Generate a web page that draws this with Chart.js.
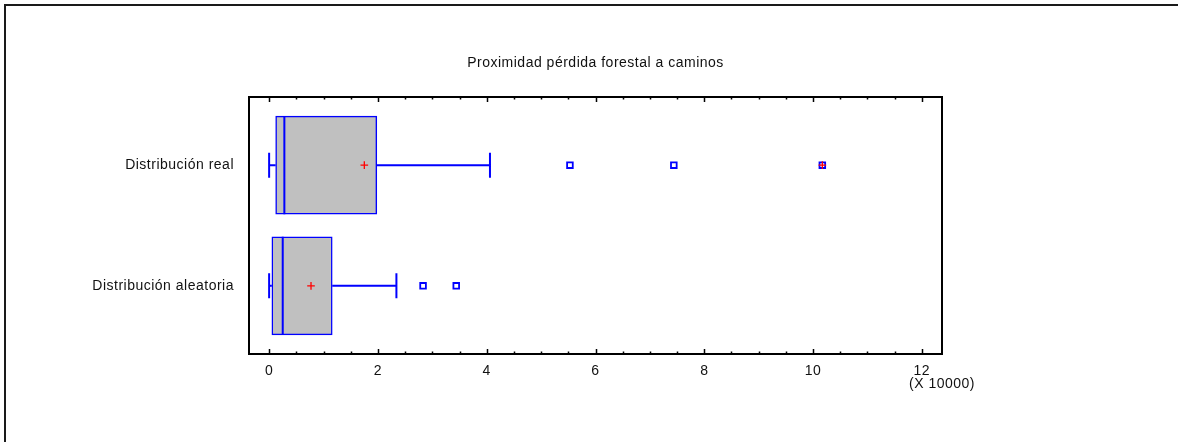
<!DOCTYPE html>
<html>
<head>
<meta charset="utf-8">
<script src="https://cdn.jsdelivr.net/npm/chart.js@4/dist/chart.umd.min.js"></script>
<style>
  html, body { margin: 0; padding: 0; background: #fff; overflow: hidden; }
  .wrap { position: relative; width: 1178px; height: 442px; }
  .frame { position: absolute; left: 4px; top: 4px; width: 2000px; height: 2000px; border: 2px solid #1a1a1a; }
  canvas { position: absolute; left: 0; top: 0; }
</style>
</head>
<body>
<div class="wrap">
  <div class="frame"></div>
  <canvas id="chart" width="1178" height="442"></canvas>
</div>
<script>
// values in units of 10000
const categories = ['Distribución real', 'Distribución aleatoria'];
const minValues = [0.0, 0.0];
const q1Values = [0.12, 0.05];
const medianValues = [0.28, 0.25];
const q3Values = [1.98, 1.16];
const maxValues = [4.06, 2.34];
const meanValues = [1.75, 0.77];
const outliersReal = [5.53, 7.44, 10.17];
const outliersRandom = [2.83, 3.44];
const farOutliersReal = [10.17];
const xTicks = [0, 2, 4, 6, 8, 10, 12];

const blue = '#0000ff';
const red = '#ff0000';
const font = { family: '"Liberation Sans", Arial, sans-serif', size: 14 };

const outlierPoints = outliersReal.map(v => ({ x: v, y: 0 }))
  .concat(outliersRandom.map(v => ({ x: v, y: 1 })));
const farPoints = farOutliersReal.map(v => ({ x: v, y: 0 }));
const meanPoints = meanValues.map((v, i) => ({ x: v, y: i }));

const boxPlot = {
  id: 'boxPlot',
  beforeDraw(chart) {
    chart.ctx.letterSpacing = '0.5px';
  },
  afterDatasetsDraw(chart) {
    const { ctx, scales: { x, y } } = chart;
    const bars = chart.getDatasetMeta(0).data;
    ctx.save();
    ctx.strokeStyle = blue;
    ctx.lineWidth = 2;
    categories.forEach((c, i) => {
      const cy = y.getPixelForValue(i);
      const top = bars[i].y - bars[i].height / 2;
      const bottom = bars[i].y + bars[i].height / 2;
      const xMin = x.getPixelForValue(minValues[i]);
      const xQ1 = x.getPixelForValue(q1Values[i]);
      const xMed = x.getPixelForValue(medianValues[i]);
      const xQ3 = x.getPixelForValue(q3Values[i]);
      const xMax = x.getPixelForValue(maxValues[i]);
      ctx.beginPath();
      // whiskers
      ctx.moveTo(xMin, cy); ctx.lineTo(xQ1, cy);
      ctx.moveTo(xQ3, cy); ctx.lineTo(xMax, cy);
      // caps
      ctx.moveTo(xMin, cy - 12.5); ctx.lineTo(xMin, cy + 12.5);
      ctx.moveTo(xMax, cy - 12.5); ctx.lineTo(xMax, cy + 12.5);
      // median
      ctx.moveTo(xMed, top); ctx.lineTo(xMed, bottom);
      ctx.stroke();
    });
    ctx.restore();
  },
  afterDraw(chart) {
    const { ctx, chartArea: a, scales: { x } } = chart;
    ctx.save();
    ctx.strokeStyle = '#000';
    ctx.lineWidth = 2;
    ctx.strokeRect(a.left, a.top, a.right - a.left, a.bottom - a.top);
    ctx.beginPath();
    for (let v = xTicks[0]; v <= xTicks[xTicks.length - 1]; v += 0.5) {
      const px = Math.round(x.getPixelForValue(v)) + 0.5;
      const len = xTicks.includes(v) ? 5 : 2.5;
      ctx.moveTo(px, a.bottom); ctx.lineTo(px, a.bottom - len);
      ctx.moveTo(px, a.top); ctx.lineTo(px, a.top + len);
    }
    ctx.lineWidth = 1.5;
    ctx.stroke();
    ctx.fillStyle = '#111';
    ctx.font = '14px "Liberation Sans", Arial, sans-serif';
    ctx.textAlign = 'center';
    ctx.textBaseline = 'middle';
    ctx.fillText('(X 10000)', a.right, 384);
    ctx.restore();
  }
};

new Chart(document.getElementById('chart'), {
  type: 'bar',
  data: {
    datasets: [
      {
        type: 'bar',
        indexAxis: 'y',
        data: q1Values.map((v, i) => ({ x: [v, q3Values[i]], y: i })),
        backgroundColor: '#c0c0c0',
        borderColor: blue,
        borderWidth: 1.5,
        borderSkipped: false,
        barThickness: 98,
        order: 3
      },
      {
        type: 'scatter',
        data: outlierPoints,
        pointStyle: 'rect',
        radius: 4,
        backgroundColor: '#fff',
        borderColor: blue,
        borderWidth: 1.8,
        order: 2
      },
      {
        type: 'scatter',
        data: farPoints.concat(meanPoints),
        pointStyle: 'cross',
        radius: 3.8,
        borderColor: red,
        borderWidth: 1.3,
        order: 1
      }
    ]
  },
  options: {
    responsive: false,
    animation: false,
    layout: { padding: { left: 0, top: 0, right: 236, bottom: 0 } },
    plugins: {
      legend: { display: false },
      tooltip: { enabled: false },
      title: {
        display: true,
        text: 'Proximidad pérdida forestal a caminos',
        fullSize: false,
        color: '#111',
        font: { ...font, weight: 'normal', lineHeight: 1.2 },
        padding: { top: 54.6, bottom: 25.6 }
      }
    },
    scales: {
      x: {
        type: 'linear',
        offset: false,
        min: -0.37,
        max: 12.37,
        afterBuildTicks: s => { s.ticks = xTicks.map(v => ({ value: v })); },
        afterFit: s => { s.height = 88; },
        grid: { display: false, drawTicks: false, offset: false },
        border: { display: false },
        ticks: { color: '#111', font, padding: 9 }
      },
      y: {
        type: 'linear',
        offset: false,
        reverse: true,
        min: -0.565,
        max: 1.565,
        afterBuildTicks: s => { s.ticks = categories.map((c, i) => ({ value: i })); },
        afterFit: s => { s.width = 249; },
        grid: { display: false, drawTicks: false, offset: false },
        border: { display: false },
        ticks: { color: '#111', font, padding: 15, callback: v => categories[v] }
      }
    }
  },
  plugins: [boxPlot]
});
</script>
</body>
</html>
